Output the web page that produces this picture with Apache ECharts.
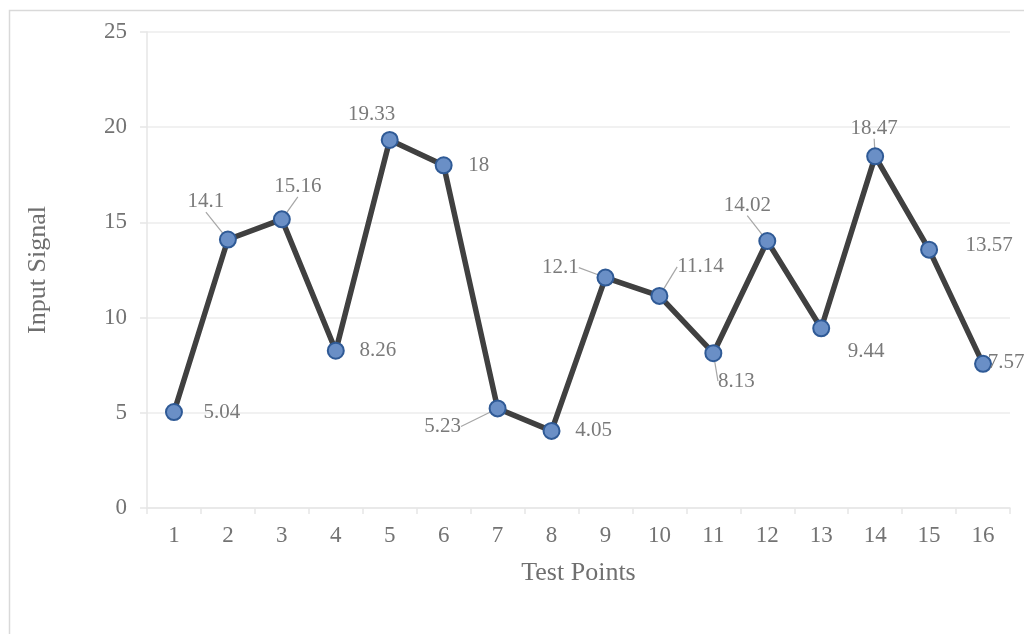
<!DOCTYPE html>
<html><head><meta charset="utf-8">
<script src="https://cdn.jsdelivr.net/npm/echarts@6/dist/echarts.min.js"></script>
<style>html,body{margin:0;padding:0;background:#fff}#c{width:1024px;height:634px}</style>
</head><body><div id="c"></div>
<script>
const categories = ['1','2','3','4','5','6','7','8','9','10','11','12','13','14','15','16'];
const values = [5.04,14.1,15.16,8.26,19.33,18,5.23,4.05,12.1,11.14,8.13,14.02,9.44,18.47,13.57,7.57];
const yTicks = [0,5,10,15,20,25];
// label offsets (dx, dy) relative to the point, and whether a leader line is drawn
const labelOffsets = [[48,0],[-22,-38],[16,-33],[42,0],[-18,-25],[35,0],[-55,18],[42,0],[-45,-10],[41,-29],[23,28],[-20,-36],[45,23],[-1,-28],[60,-4],[23,-1]];
const leaders = [false,true,true,false,false,false,true,false,true,true,true,true,false,true,false,false];

const chart = echarts.init(document.getElementById('c'), null, {renderer:'canvas'});
const font = 'Liberation Serif';
const data = values.map((v,i)=>({
  value: v,
  labelLine: {show: leaders[i]}
}));
chart.setOption({
  animation:false,
  backgroundColor:'#fff',
  graphic:[{type:'rect',left:7,top:8,shape:{width:1040,height:660},style:{fill:'none',stroke:'#d9d9d9',lineWidth:1.5},silent:true}],
  grid:{left:147,right:14,top:32,bottom:126},
  xAxis:{type:'category',data:categories,boundaryGap:true,
    name:'Test Points',nameLocation:'middle',nameGap:52,
    nameTextStyle:{fontFamily:font,fontSize:26,color:'#6f6f6f'},
    axisLine:{show:true,lineStyle:{color:'#e6e6e6',width:1.5}},
    axisTick:{show:true,length:6,lineStyle:{color:'#e6e6e6',width:1.5},alignWithLabel:false},
    axisLabel:{fontFamily:font,fontSize:23,color:'#737373',margin:16},
    splitLine:{show:false}},
  yAxis:{type:'value',min:0,max:25,interval:5,
    name:'Input Signal',nameLocation:'middle',nameGap:96,nameRotate:90,
    nameTextStyle:{fontFamily:font,fontSize:26,color:'#6f6f6f'},
    axisLine:{show:true,lineStyle:{color:'#e6e6e6',width:1.5}},
    axisTick:{show:true,length:7,lineStyle:{color:'#e6e6e6',width:1.5}},
    axisLabel:{fontFamily:font,fontSize:23,color:'#737373',margin:20,
      formatter:(v)=> yTicks.includes(v)? String(v):''},
    splitLine:{show:true,lineStyle:{color:'#ececec',width:1.5}}},
  series:[{type:'line',data:data,
    lineStyle:{color:'#404040',width:5.5},
    symbol:'circle',symbolSize:16,
    itemStyle:{color:'#6a8fc6',borderColor:'#2f5a96',borderWidth:2},
    label:{show:true,position:'inside',fontFamily:font,fontSize:21,color:'#7a7a7a'},
    labelLayout:(p)=>({dx:labelOffsets[p.dataIndex][0],dy:labelOffsets[p.dataIndex][1]}),
    labelLine:{show:true,lineStyle:{color:'#a6a6a6',width:1.2}},
    z:3}]
});
</script></body></html>
